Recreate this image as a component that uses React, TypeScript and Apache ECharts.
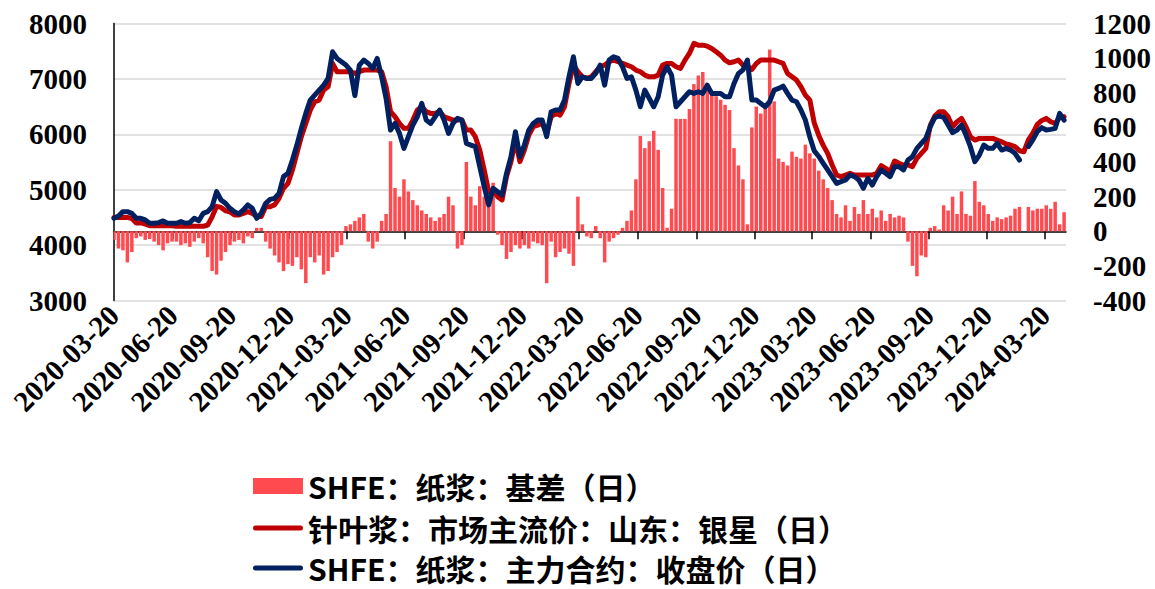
import { useEffect, useRef } from 'react';
import * as echarts from 'echarts';

// ---- data (weekly samples, starting 2020-03-20, step 7 days) ----
const START_DATE = '2020-03-20';
const END_DATE = '2024-04-22';
const SAMPLE_STEP_DAYS = 7;

const BASIS_NAME = 'SHFE：纸浆：基差（日）';
const SPOT_NAME = '针叶浆：市场主流价：山东：银星（日）';
const FUTURES_NAME = 'SHFE：纸浆：主力合约：收盘价（日）';

const QUARTER_LABEL_MONTHS = ['03', '06', '09', '12'];

// 针叶浆：市场主流价：山东：银星 (left axis)
const spotPrice: (number | null)[] = [
  4500, 4500, 4500, 4500, 4480, 4400, 4400, 4380, 4350, 4350, 4350, 4350, 4350, 4350,
  4340, 4340, 4340, 4340, 4340, 4340, 4340, 4360, 4510, 4700, 4680, 4620, 4600,
  4544, 4544, 4574, 4604, 4574, 4514, 4514, 4694, 4694, 4725, 4844, 5025, 5115,
  5356, 5656, 5957, 6197, 6437, 6588, 6618, 6798, 6858, 7279, 7129, 7129, 7129,
  7129, 7099, 7129, 7159, 7159, 7159, 7159, 7129, 6858, 6408, 6317, 6197, 6107,
  6107, 6257, 6438, 6498, 6408, 6377, 6377, 6408, 6317, 6287, 6257, 6257, 6257,
  6077, 6077, 5957, 5716, 5356, 4965, 4995, 4875, 4815, 5236, 5506, 5896, 5506,
  5716, 5987, 6137, 6167, 6197, 6017, 6317, 6377, 6347, 6498, 6918, 7249, 7129,
  7038, 7008, 7038, 7129, 7219, 7249, 7309, 7339, 7309, 7279, 7249, 7219, 7159,
  7129, 7069, 7038, 7038, 7069, 7249, 7279, 7279, 7219, 7189, 7339, 7459, 7640,
  7609, 7609, 7591, 7549, 7489, 7429, 7339, 7291, 7309, 7339, 7249, 7231, 7171,
  7279, 7339, 7339, 7339, 7339, 7309, 7279, 7099, 7038, 6978, 6858, 6708, 6618,
  6200, 5980, 5800, 5656, 5446, 5265, 5236, 5265, 5295, 5265, 5265, 5265, 5265,
  5265, 5295, 5434, 5386, 5326, 5518, 5476, 5446, 5446, 5416, 5566, 5656, 5746,
  6160, 6330, 6408, 6408, 6317, 6137, 6227, 6287, 6137, 5957, 5896, 5926, 5926,
  5926, 5926, 5896, 5866, 5824, 5806, 5776, 5704, 5686, 5900, 6020, 6180, 6250,
  6287, 6227, 6197, 6305, 6317,
];

// SHFE：纸浆：主力合约：收盘价 (left axis)
const futuresClose: (number | null)[] = [
  4484, 4526, 4604, 4604, 4574, 4484, 4484, 4454, 4394, 4394, 4406, 4436, 4394, 4394,
  4394, 4424, 4394, 4406, 4484, 4440, 4574, 4604, 4694, 4965, 4814, 4754, 4664,
  4604, 4562, 4634, 4725, 4664, 4484, 4574, 4754, 4826, 4844, 4935, 5236, 5296,
  5536, 5806, 6107, 6377, 6618, 6708, 6798, 6888, 7008, 7489, 7369, 7309, 7249,
  7159, 6700, 7249, 7339, 7279, 7189, 7369, 7038, 6648, 6077, 6197, 6017, 5746,
  5957, 6167, 6317, 6558, 6257, 6197, 6317, 6438, 6257, 6017, 6197, 6287, 6257,
  5836, 5806, 5776, 5416, 5055, 4725, 5025, 4965, 4905, 5296, 5596, 6047, 5596,
  5806, 6077, 6197, 6257, 6257, 5957, 6407, 6438, 6438, 6618, 7038, 7399, 6918,
  7038, 7008, 7008, 7099, 7249, 6888, 7339, 7399, 7369, 7219, 7008, 7038, 6798,
  6498, 6798, 6648, 6498, 6678, 7069, 7219, 7069, 6498, 6588, 6678, 6768, 6738,
  6768, 6738, 6888, 6738, 6738, 6738, 6678, 6678, 6918, 7099, 7159, 7339, 6618,
  6618, 6558, 6498, 6588, 6798, 6828, 6870, 6738, 6618, 6588, 6438, 6257, 5950,
  5700, 5600, 5476, 5356, 5236, 5115, 5145, 5175, 5265, 5236, 5175, 5025, 5205,
  5085, 5236, 5356, 5296, 5236, 5416, 5416, 5356, 5536, 5596, 5746, 5836, 5927,
  6137, 6300, 6330, 6306, 6167, 6029, 6077, 6167, 5987, 5776, 5506, 5626, 5806,
  5746, 5746, 5836, 5716, 5746, 5716, 5656, 5536, null, 5780, 5900, 6050, 6120,
  6077, 6089, 6107, 6378, 6257,
];

// SHFE：纸浆：基差 (right axis)
const basis: (number | null)[] = [
  -50, -100, -110, -180, -120, -40, -30, -50, -45, -60, -80, -110, -70, -60,
  -60, -80, -70, -90, -60, -40, -70, -150, -230, -250, -170, -120, -80,
  -60, -50, -70, -30, -40, 20, 20, -60, -100, -140, -180, -230, -190,
  -200, -150, -220, -300, -150, -180, -140, -250, -230, -150, -120, -80, 30,
  40, 60, 80, 100, -60, -100, -60, 60, 100, 520, 250, 200, 300,
  230, 180, 150, 120, 100, 80, 60, 80, 100, 200, 150, -100, -80,
  400, 200, 150, 260, 200, 150, 280, -20, -80, -160, -120, -80, -100,
  -80, -100, -60, -70, -80, -300, -60, -150, -120, -100, -130, -200, 200,
  40, -30, -40, 30, -40, -180, -60, -40, -20, 20, 60, 120, 300,
  550, 480, 520, 580, 470, 250, 20, 130, 650, 649, 649, 706, 850,
  900, 920, 830, 790, 780, 760, 730, 700, 480, 380, 300, 40, 600,
  720, 680, 740, 1050, 750, 420, 400, 380, 460, 430, 420, 500, 450,
  420, 350, 300, 250, 180, 100, 80, 150, 60, 140, 100, 180, 100,
  130, 80, 120, 60, 100, 80, 90, 80, -60, -200, -260, -140, -150,
  20, 30, 10, 150, 120, 200, 100, 230, 100, 90, 290, 170, 150,
  100, 60, 80, 70, 80, 90, 130, 140, null, 140, 120, 130, 130,
  150, 130, 170, 40, 110,
];

// ---- helpers ----
function addDays(base: string, n: number): string {
  const d = new Date(base + 'T00:00:00Z');
  d.setUTCDate(d.getUTCDate() + n);
  return d.toISOString().slice(0, 10);
}

const dayCount = Math.round((Date.parse(END_DATE) - Date.parse(START_DATE)) / 86400000);
const categories: string[] = Array.from({ length: dayCount + 1 }, (_, i) => addDays(START_DATE, i));
const sampleDates: string[] = spotPrice.map((_, i) => addDays(START_DATE, i * SAMPLE_STEP_DAYS));

const toPairs = (arr: (number | null)[]) =>
  arr.map((v, i) => [sampleDates[i], v === null ? '-' : v]);

const isQuarterLabel = (_idx: number, value: string) => {
  const m = value.slice(5, 7);
  return value.slice(8, 10) === '20' && QUARTER_LABEL_MONTHS.includes(m);
};

const SERIF = "'Liberation Serif', 'Times New Roman', serif";
const CJK = "'Noto Sans CJK SC', 'Noto Sans', sans-serif";

const BAR_COLOR = '#FF4B50';
const SPOT_COLOR = '#C00000';
const FUT_COLOR = '#002060';

const LINE_ICON = 'path://M2.5,0 H47.5 A2.5,2.5 0 0 1 47.5,5 H2.5 A2.5,2.5 0 0 1 2.5,0 Z';

const makeLegend = (name: string, icon: string, top: number) => ({
  orient: 'vertical',
  left: 253,
  top,
  padding: 0,
  itemWidth: 50,
  itemHeight: 16,
  symbolKeepAspect: true,
  textStyle: { fontFamily: CJK, fontSize: 30, lineHeight: 28, fontWeight: 'bold', color: '#000' },
  data: [{ name, icon }],
});

export default function App() {
  const ref = useRef<HTMLDivElement>(null);

  useEffect(() => {
    if (!ref.current) return;
    const chart = echarts.init(ref.current, undefined, { renderer: 'svg' });
    const axisLabelStyle = {
      fontFamily: SERIF,
      fontWeight: 'bold',
      fontSize: 29,
      color: '#000',
    };
    const option: any = {
      animation: false,
      backgroundColor: '#ffffff',
      grid: { left: 114, right: 89, top: 23.5, bottom: 288.5, containLabel: false },
      legend: [
        makeLegend(BASIS_NAME, 'rect', 471),
        makeLegend(SPOT_NAME, LINE_ICON, 513),
        makeLegend(FUTURES_NAME, LINE_ICON, 553),
      ],
      xAxis: {
        type: 'category',
        data: categories,
        boundaryGap: false,
        axisLine: { show: true, lineStyle: { color: '#000', width: 1.5 } },
        axisTick: {
          show: true,
          interval: isQuarterLabel,
          length: 8,
          lineStyle: { color: '#000', width: 1.5 },
        },
        axisLabel: {
          ...axisLabelStyle,
          interval: isQuarterLabel,
          rotate: 45,
          margin: 10,
        },
        splitLine: { show: false },
      },
      yAxis: [
        {
          type: 'value',
          min: 3000,
          max: 8000,
          interval: 1000,
          axisLine: { show: true, lineStyle: { color: '#000', width: 1.5 } },
          axisTick: { show: false },
          axisLabel: { ...axisLabelStyle, margin: 27, formatter: (v: number) => String(v) },
          splitLine: { show: true, lineStyle: { color: '#D9D9D9', width: 1.5 } },
        },
        {
          type: 'value',
          min: -400,
          max: 1200,
          interval: 200,
          position: 'right',
          axisLine: { show: false },
          axisTick: { show: false },
          axisLabel: { ...axisLabelStyle, margin: 27, formatter: (v: number) => String(v) },
          splitLine: { show: false },
        },
      ],
      series: [
        {
          name: BASIS_NAME,
          type: 'bar',
          yAxisIndex: 1,
          barWidth: 3.5,
          itemStyle: { color: BAR_COLOR },
          data: toPairs(basis),
        },
        {
          name: SPOT_NAME,
          type: 'line',
          yAxisIndex: 0,
          symbol: 'none',
          connectNulls: false,
          lineStyle: { color: SPOT_COLOR, width: 5, cap: 'round', join: 'round' },
          itemStyle: { color: SPOT_COLOR },
          data: toPairs(spotPrice),
        },
        {
          name: FUTURES_NAME,
          type: 'line',
          yAxisIndex: 0,
          symbol: 'none',
          connectNulls: false,
          lineStyle: { color: FUT_COLOR, width: 5, cap: 'round', join: 'round' },
          itemStyle: { color: FUT_COLOR },
          data: toPairs(futuresClose),
        },
      ],
    };
    chart.setOption(option);
    return () => chart.dispose();
  }, []);

  return (
    <div
      ref={ref}
      style={{ position: 'fixed', left: 0, top: 0, width: 1155, height: 589, background: '#fff' }}
    />
  );
}
